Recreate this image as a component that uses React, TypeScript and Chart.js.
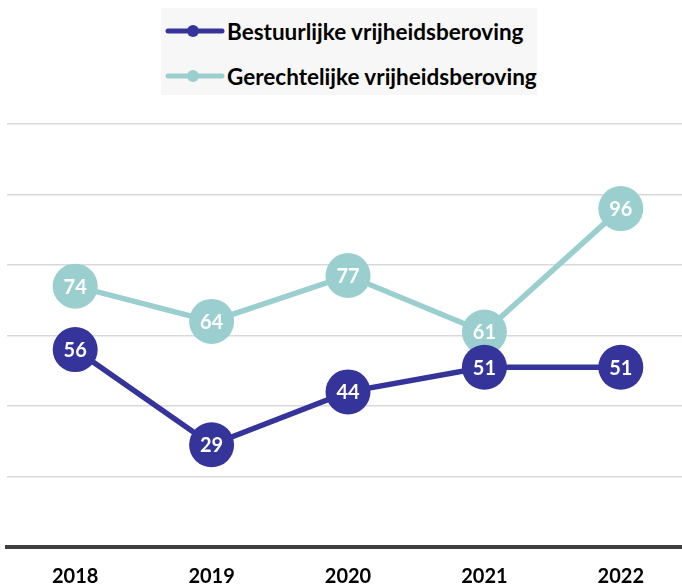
import React, { useEffect, useRef } from "react";
import { Chart, registerables } from "chart.js";

Chart.register(...registerables);

const years = ["2018", "2019", "2020", "2021", "2022"];
const bestuurlijk = [56, 29, 44, 51, 51];
const gerechtelijk = [74, 64, 77, 61, 96];
const seriesNames = ["Bestuurlijke vrijheidsberoving", "Gerechtelijke vrijheidsberoving"];
const seriesColors = ["#35349a", "#9bcfcf"];
const yMax = 120;
const yStep = 20;

const FONT = "Lato, 'Open Sans', sans-serif";

const pointLabels = {
  id: "pointLabels",
  afterDatasetDraw(chart: any, args: any) {
    const ctx = chart.ctx;
    const meta = args.meta;
    const ds = chart.data.datasets[args.index];
    ctx.save();
    ctx.fillStyle = "#ffffff";
    ctx.font = `bold 20px ${FONT}`;
    ctx.textAlign = "center";
    ctx.textBaseline = "middle";
    meta.data.forEach((el: any, i: number) => {
      ctx.fillText(String(ds.data[i]), el.x, el.y + 1);
    });
    ctx.restore();
  },
};

export default function App() {
  const ref = useRef<HTMLCanvasElement | null>(null);
  useEffect(() => {
    document.body.style.margin = "0";
    if (!ref.current) return;
    const chart = new Chart(ref.current, {
      type: "line",
      data: {
        labels: years,
        datasets: [
          {
            label: seriesNames[0],
            data: bestuurlijk,
            borderColor: seriesColors[0],
            backgroundColor: seriesColors[0],
            pointBackgroundColor: seriesColors[0],
            pointBorderWidth: 0,
            pointRadius: 22.5,
            borderWidth: 5.5,
          },
          {
            label: seriesNames[1],
            data: gerechtelijk,
            borderColor: seriesColors[1],
            backgroundColor: seriesColors[1],
            pointBackgroundColor: seriesColors[1],
            pointBorderWidth: 0,
            pointRadius: 22.5,
            borderWidth: 5.5,
          },
        ],
      },
      options: {
        responsive: false,
        animation: false,
        layout: { autoPadding: false, padding: { top: 124, left: 7, right: 3, bottom: 2 } },
        plugins: {
          legend: { display: false },
          tooltip: { enabled: false },
        },
        scales: {
          x: {
            offset: true,
            grid: { display: false, drawTicks: false },
            border: { display: true, color: "#404040", width: 4 },
            ticks: {
              color: "#000000",
              font: { family: FONT, size: 20, weight: "bold" },
              padding: 18,
            },
          },
          y: {
            min: 0,
            max: yMax,
            ticks: { display: false, stepSize: yStep },
            border: { display: false },
            grid: { color: "#d9d9d9", lineWidth: 1.5, drawTicks: false },
            afterFit: (s: any) => {
              s.width = 0;
            },
          },
        },
      },
      plugins: [pointLabels],
    });
    return () => chart.destroy();
  }, []);

  return (
    <div style={{ position: "relative", width: 682, height: 587, overflow: "hidden", background: "#fff" }}>
      <canvas ref={ref} width={692} height={609} style={{ position: "absolute", left: 0, top: 0 }} />
      <div
        style={{
          position: "absolute",
          left: 161,
          top: 8,
          width: 376,
          height: 87,
          background: "#f7f7f7",
          fontFamily: FONT,
          fontWeight: 700,
          fontSize: 22.5,
          color: "#000",
        }}
      >
        {seriesNames.map((name, i) => (
          <div
            key={name}
            style={{ position: "absolute", left: 4, top: i === 0 ? 8 : 53, height: 30, display: "flex", alignItems: "center", whiteSpace: "nowrap" }}
          >
            <svg width={60} height={16} style={{ marginRight: 2 }}>
              <line x1={3} y1={8} x2={57} y2={8} stroke={seriesColors[i]} strokeWidth={5} strokeLinecap="round" />
              <circle cx={28} cy={8} r={6} fill={seriesColors[i]} />
            </svg>
            <span>{name}</span>
          </div>
        ))}
      </div>
    </div>
  );
}
